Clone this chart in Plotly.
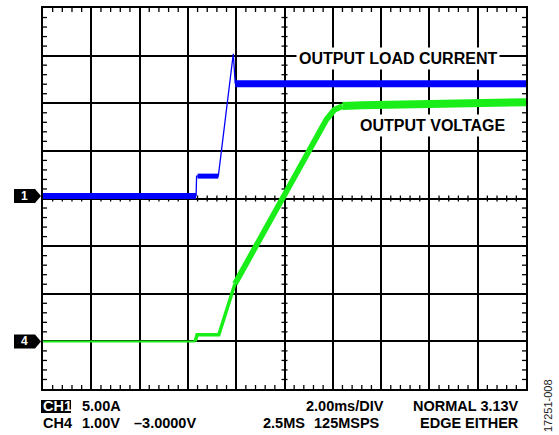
import plotly.graph_objects as go

# ---------------- data (time in ms, 2 ms/div; vertical in screen divisions 0..8) -------------
TIME_RANGE = [0, 20]
DIV_RANGE = [0, 8]

# CH1: output load current (blue)
CUR_BASE_T = [0.0, 6.34]
CUR_BASE_V = [4.05, 4.05]
CUR_STEP_T = [6.40, 7.26]
CUR_STEP_V = [4.47, 4.47]
CUR_EDGE_T = [6.34, 6.36, 6.40, 7.26, 7.88, 7.96]
CUR_EDGE_V = [4.05, 4.47, 4.47, 4.47, 7.04, 6.41]
CUR_HIGH_T = [7.96, 20.0]
CUR_HIGH_V = [6.41, 6.41]

# CH4: output voltage (green)
VOLT_BASE_T = [0.0, 6.30]
VOLT_BASE_V = [1.0, 1.0]
VOLT_STEP_T = [6.30, 6.38, 7.28, 7.95]
VOLT_STEP_V = [1.0, 1.14, 1.14, 2.21]
VOLT_RAMP_T = [7.95, 9.95, 11.02, 11.74, 12.06, 12.40]
VOLT_RAMP_V = [2.21, 4.02, 4.99, 5.66, 5.86, 5.94]
VOLT_HIGH_T = [12.40, 13.2, 20.0]
VOLT_HIGH_V = [5.94, 5.96, 6.02]

LABEL_CURRENT = "OUTPUT LOAD CURRENT"
LABEL_VOLTAGE = "OUTPUT VOLTAGE"
CH1_MARK = "1"
CH4_MARK = "4"

BLUE = "#0000ff"
GREEN = "#19ee19"
FONT_B = "Liberation Sans, Arial, Helvetica, sans-serif"

fig = go.Figure()


def add(t, v, color, width):
    fig.add_trace(go.Scatter(x=t, y=v, mode="lines", line=dict(color=color, width=width),
                             hoverinfo="skip", showlegend=False))


add(VOLT_BASE_T, VOLT_BASE_V, GREEN, 2)
add(VOLT_STEP_T, VOLT_STEP_V, GREEN, 3.5)
add(VOLT_RAMP_T, VOLT_RAMP_V, GREEN, 5.8)
add(VOLT_HIGH_T, VOLT_HIGH_V, GREEN, 8)

add(CUR_BASE_T, CUR_BASE_V, BLUE, 6)
add(CUR_STEP_T, CUR_STEP_V, BLUE, 5)
add(CUR_EDGE_T, CUR_EDGE_V, BLUE, 1.3)
add(CUR_HIGH_T, CUR_HIGH_V, BLUE, 7)

# ---------------- graticule minor ticks ----------------
shapes = []
tick_line = dict(color="black", width=1.3)
xdiv = (TIME_RANGE[1] - TIME_RANGE[0]) / 10.0
ydiv = (DIV_RANGE[1] - DIV_RANGE[0]) / 8.0
xc = (TIME_RANGE[0] + TIME_RANGE[1]) / 2.0
yc = (DIV_RANGE[0] + DIV_RANGE[1]) / 2.0
minor_x = [TIME_RANGE[0] + i * xdiv / 5 for i in range(51) if i % 5 != 0]
minor_y = [DIV_RANGE[0] + i * ydiv / 5 for i in range(41) if i % 5 != 0]

for x in minor_x:
    for anc, a, b in [(DIV_RANGE[1], 0, -4), (DIV_RANGE[0], 0, 4), (yc, -3, 3)]:
        shapes.append(dict(type="line", xref="x", x0=x, x1=x, yref="y", ysizemode="pixel",
                           yanchor=anc, y0=a, y1=b, line=tick_line, layer="below"))
for y in minor_y:
    for anc, a, b in [(TIME_RANGE[0], 0, 4), (TIME_RANGE[1], 0, -4), (xc, -3, 3)]:
        shapes.append(dict(type="line", yref="y", y0=y, y1=y, xref="x", xsizemode="pixel",
                           xanchor=anc, x0=a, x1=b, line=tick_line, layer="below"))

# channel ground markers
marker_path = "M-29,-7 L-8,-7 L-2,0 L-8,7 L-29,7 Z"
for yv in (CUR_BASE_V[0], VOLT_BASE_V[0]):
    shapes.append(dict(type="path", xref="paper", xsizemode="pixel", xanchor=0,
                       yref="y", ysizemode="pixel", yanchor=yv, path=marker_path,
                       fillcolor="black", line=dict(width=0)))

# CH1 black label box
shapes.append(dict(type="rect", xref="paper", xsizemode="pixel", xanchor=0, x0=-2, x1=28,
                   yref="paper", ysizemode="pixel", yanchor=0, y0=-11, y1=-24,
                   fillcolor="black", line=dict(width=0)))

annotations = [
    dict(x=14.7, y=6.94, xref="x", yref="y", text=LABEL_CURRENT, showarrow=False,
         font=dict(family=FONT_B, size=16, color="black", weight="bold"), bgcolor="white",
         borderpad=2),
    dict(x=16.15, y=5.53, xref="x", yref="y", text=LABEL_VOLTAGE, showarrow=False,
         font=dict(family=FONT_B, size=16, color="black", weight="bold"), bgcolor="white",
         borderpad=2),
    dict(x=0, y=CUR_BASE_V[0], xref="paper", yref="y", xshift=-19, xanchor="center",
         yanchor="middle", text=CH1_MARK, showarrow=False,
         font=dict(family=FONT_B, size=12, color="white", weight="bold")),
    dict(x=0, y=VOLT_BASE_V[0], xref="paper", yref="y", xshift=-19, xanchor="center",
         yanchor="middle", text=CH4_MARK, showarrow=False,
         font=dict(family=FONT_B, size=12, color="white", weight="bold")),
]


def bottom(text, xpx, line, anchor="left", color="black"):
    # xpx: pixel offset from left edge of plot area
    annotations.append(dict(x=0, y=0, xref="paper", yref="paper", xshift=xpx,
                            yshift=-17 if line == 1 else -34, xanchor=anchor, yanchor="middle",
                            text=text, showarrow=False, borderpad=0,
                            font=dict(family=FONT_B, size=14.5, color=color, weight="bold")))


bottom("CH1", -1, 1, color="white")
bottom("5.00A", 38, 1)
bottom("CH4", -1, 2)
bottom("1.00V", 38, 2)
bottom("\u20133.0000V", 90, 2)
bottom("2.00ms/DIV", 342, 1, anchor="right")
bottom("2.5MS", 219, 2)
bottom("125MSPS", 338, 2, anchor="right")
bottom("NORMAL 3.13V", 477, 1, anchor="right")
bottom("EDGE EITHER", 477, 2, anchor="right")

annotations.append(dict(x=1, y=0, xref="paper", yref="paper", xshift=22, yshift=-17,
                        xanchor="center", yanchor="middle",
                        text="17251-008", textangle=-90, showarrow=False,
                        font=dict(family=FONT_B, size=11, color="#222")))

fig.update_layout(
    width=559, height=435,
    margin=dict(l=43, r=33, t=6, b=46),
    paper_bgcolor="white", plot_bgcolor="white",
    xaxis=dict(range=TIME_RANGE, dtick=2, showgrid=True, gridcolor="black", gridwidth=1.6,
               showticklabels=False, ticks="", zeroline=False, showline=True, mirror=True,
               linecolor="black", linewidth=2, fixedrange=True),
    yaxis=dict(range=DIV_RANGE, dtick=1, showgrid=True, gridcolor="black", gridwidth=1.6,
               showticklabels=False, ticks="", zeroline=False, showline=True, mirror=True,
               linecolor="black", linewidth=2, fixedrange=True),
    shapes=shapes,
    annotations=annotations,
)

fig.write_html("out.html", config={"displayModeBar": False},
               post_script="document.body.style.margin='0px';")
